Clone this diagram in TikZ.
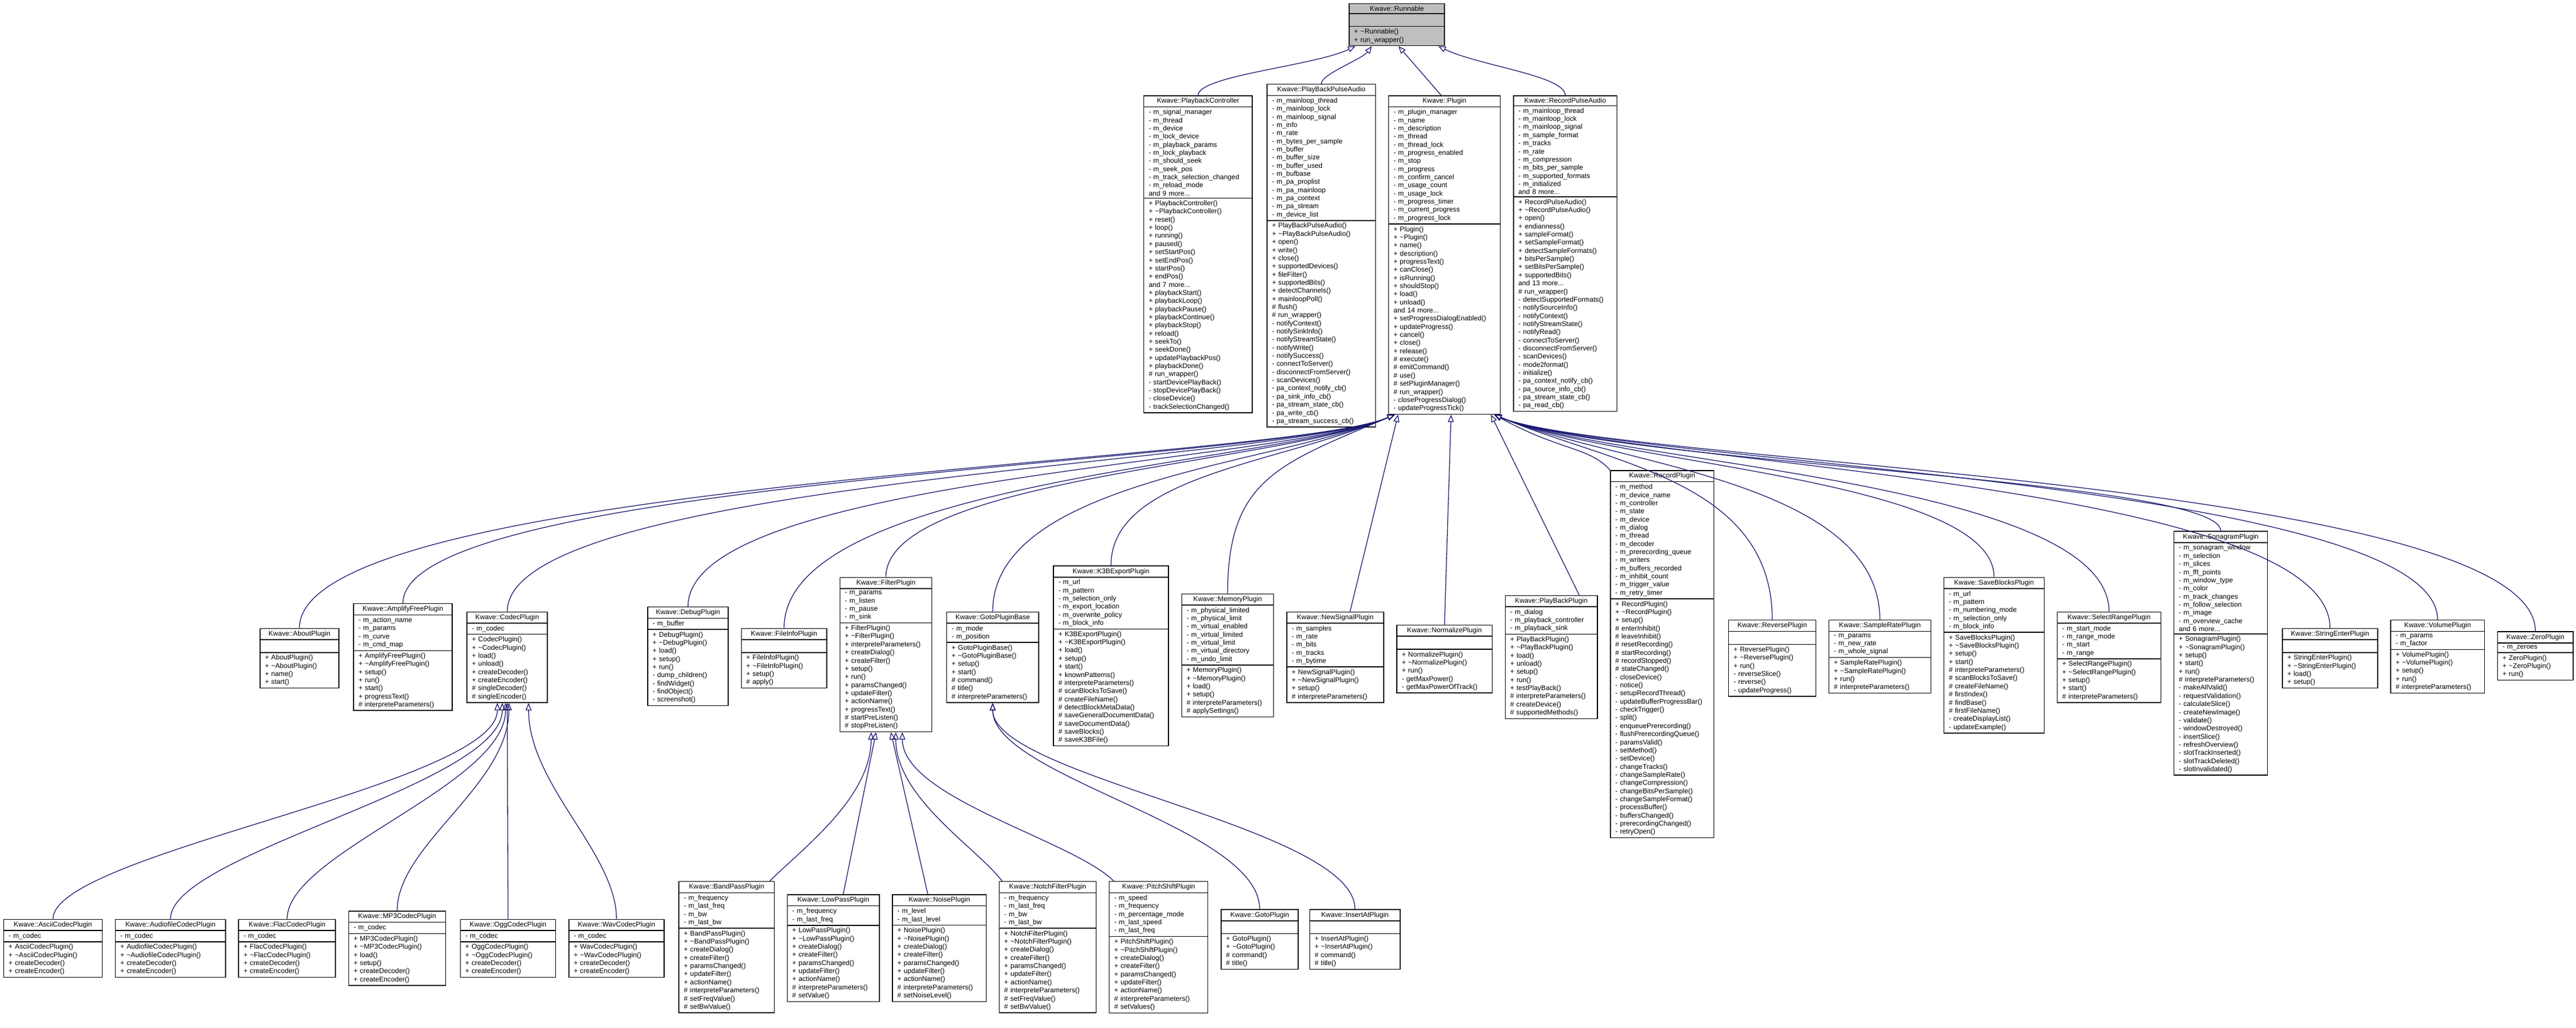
\documentclass[tikz,border=0pt]{standalone}
\usepackage{fontspec}
\usepackage{tikz}
\usetikzlibrary{arrows.meta}
\usetikzlibrary{shapes.multipart}
\newfontfamily\dxsans{Liberation Sans}
\definecolor{edgeblue}{HTML}{191970}
\definecolor{basegray}{HTML}{BFBFBF}
\newcommand\tld{\textasciitilde}
\newcommand\ttl[1]{\centering #1\par}
\tikzset{
  cls/.style={draw=black, fill=white, rectangle split, rectangle split parts=3,
    anchor=north west, inner xsep=3pt, inner ysep=1.2pt, align=left,
    line width=0.5pt, font={\dxsans\fontsize{4.2}{4.95}\selectfont}},
  inh/.style={draw=edgeblue, line width=0.45pt,
    -{Triangle[open,length=4.5pt,width=3.6pt]}}
}
\begin{document}
\catcode`\_=12
\begin{tikzpicture}[x=1pt, y=-1pt]
\useasboundingbox (0,0) rectangle (1568,625);

% top
\node[cls, fill=basegray, text width=52pt] (Runnable) at (821,2) {\ttl{Kwave::Runnable}\nodepart{two}\strut\nodepart{three}+ \tld Runnable()\\+ run_wrapper()};
\node[cls, text width=60pt] (PlaybackController) at (696,58) {\ttl{Kwave::PlaybackController}\nodepart{two}- m_signal_manager\\- m_thread\\- m_device\\- m_lock_device\\- m_playback_params\\- m_lock_playback\\- m_should_seek\\- m_seek_pos\\- m_track_selection_changed\\- m_reload_mode\\and 9 more...\nodepart{three}+ PlaybackController()\\+ \tld PlaybackController()\\+ reset()\\+ loop()\\+ running()\\+ paused()\\+ setStartPos()\\+ setEndPos()\\+ startPos()\\+ endPos()\\and 7 more...\\+ playbackStart()\\+ playbackLoop()\\+ playbackPause()\\+ playbackContinue()\\+ playbackStop()\\+ reload()\\+ seekTo()\\+ seekDone()\\+ updatePlaybackPos()\\+ playbackDone()\\\# run_wrapper()\\- startDevicePlayBack()\\- stopDevicePlayBack()\\- closeDevice()\\- trackSelectionChanged()};
\node[cls, text width=60pt] (PlayBackPulseAudio) at (771,51) {\ttl{Kwave::PlayBackPulseAudio}\nodepart{two}- m_mainloop_thread\\- m_mainloop_lock\\- m_mainloop_signal\\- m_info\\- m_rate\\- m_bytes_per_sample\\- m_buffer\\- m_buffer_size\\- m_buffer_used\\- m_bufbase\\- m_pa_proplist\\- m_pa_mainloop\\- m_pa_context\\- m_pa_stream\\- m_device_list\nodepart{three}+ PlayBackPulseAudio()\\+ \tld PlayBackPulseAudio()\\+ open()\\+ write()\\+ close()\\+ supportedDevices()\\+ fileFilter()\\+ supportedBits()\\+ detectChannels()\\+ mainloopPoll()\\\# flush()\\\# run_wrapper()\\- notifyContext()\\- notifySinkInfo()\\- notifyStreamState()\\- notifyWrite()\\- notifySuccess()\\- connectToServer()\\- disconnectFromServer()\\- scanDevices()\\- pa_context_notify_cb()\\- pa_sink_info_cb()\\- pa_stream_state_cb()\\- pa_write_cb()\\- pa_stream_success_cb()};
\node[cls, text width=62pt] (Plugin) at (845,58) {\ttl{Kwave::Plugin}\nodepart{two}- m_plugin_manager\\- m_name\\- m_description\\- m_thread\\- m_thread_lock\\- m_progress_enabled\\- m_stop\\- m_progress\\- m_confirm_cancel\\- m_usage_count\\- m_usage_lock\\- m_progress_timer\\- m_current_progress\\- m_progress_lock\nodepart{three}+ Plugin()\\+ \tld Plugin()\\+ name()\\+ description()\\+ progressText()\\+ canClose()\\+ isRunning()\\+ shouldStop()\\+ load()\\+ unload()\\and 14 more...\\+ setProgressDialogEnabled()\\+ updateProgress()\\+ cancel()\\+ close()\\+ release()\\\# execute()\\\# emitCommand()\\\# use()\\\# setPluginManager()\\\# run_wrapper()\\- closeProgressDialog()\\- updateProgressTick()};
\node[cls, text width=57pt] (RecordPulseAudio) at (921,58) {\ttl{Kwave::RecordPulseAudio}\nodepart{two}- m_mainloop_thread\\- m_mainloop_lock\\- m_mainloop_signal\\- m_sample_format\\- m_tracks\\- m_rate\\- m_compression\\- m_bits_per_sample\\- m_supported_formats\\- m_initialized\\and 8 more...\nodepart{three}+ RecordPulseAudio()\\+ \tld RecordPulseAudio()\\+ open()\\+ endianness()\\+ sampleFormat()\\+ setSampleFormat()\\+ detectSampleFormats()\\+ bitsPerSample()\\+ setBitsPerSample()\\+ supportedBits()\\and 13 more...\\\# run_wrapper()\\- detectSupportedFormats()\\- notifySourceInfo()\\- notifyContext()\\- notifyStreamState()\\- notifyRead()\\- connectToServer()\\- disconnectFromServer()\\- scanDevices()\\- mode2format()\\- initialize()\\- pa_context_notify_cb()\\- pa_source_info_cb()\\- pa_stream_state_cb()\\- pa_read_cb()};

% plugins
\node[cls, text width=42pt] (AboutPlugin) at (158,382) {\ttl{Kwave::AboutPlugin}\nodepart{two}\strut\nodepart{three}+ AboutPlugin()\\+ \tld AboutPlugin()\\+ name()\\+ start()};
\node[cls, text width=54pt] (AmplifyFreePlugin) at (215,367) {\ttl{Kwave::AmplifyFreePlugin}\nodepart{two}- m_action_name\\- m_params\\- m_curve\\- m_cmd_map\nodepart{three}+ AmplifyFreePlugin()\\+ \tld AmplifyFreePlugin()\\+ setup()\\+ run()\\+ start()\\+ progressText()\\\# interpreteParameters()};
\node[cls, text width=43pt] (CodecPlugin) at (284,372) {\ttl{Kwave::CodecPlugin}\nodepart{two}- m_codec\nodepart{three}+ CodecPlugin()\\+ \tld CodecPlugin()\\+ load()\\+ unload()\\+ createDecoder()\\+ createEncoder()\\\# singleDecoder()\\\# singleEncoder()};
\node[cls, text width=43pt] (DebugPlugin) at (394,369) {\ttl{Kwave::DebugPlugin}\nodepart{two}- m_buffer\nodepart{three}+ DebugPlugin()\\+ \tld DebugPlugin()\\+ load()\\+ setup()\\+ run()\\- dump_children()\\- findWidget()\\- findObject()\\- screenshot()};
\node[cls, text width=46pt] (FileInfoPlugin) at (451,382) {\ttl{Kwave::FileInfoPlugin}\nodepart{two}\strut\nodepart{three}+ FileInfoPlugin()\\+ \tld FileInfoPlugin()\\+ setup()\\\# apply()};
\node[cls, text width=50pt] (FilterPlugin) at (511,351) {\ttl{Kwave::FilterPlugin}\nodepart{two}- m_params\\- m_listen\\- m_pause\\- m_sink\nodepart{three}+ FilterPlugin()\\+ \tld FilterPlugin()\\+ interpreteParameters()\\+ createDialog()\\+ createFilter()\\+ setup()\\+ run()\\+ paramsChanged()\\+ updateFilter()\\+ actionName()\\+ progressText()\\\# startPreListen()\\\# stopPreListen()};
\node[cls, text width=50pt] (GotoPluginBase) at (576,372) {\ttl{Kwave::GotoPluginBase}\nodepart{two}- m_mode\\- m_position\nodepart{three}+ GotoPluginBase()\\+ \tld GotoPluginBase()\\+ setup()\\+ start()\\\# command()\\\# title()\\\# interpreteParameters()};
\node[cls, text width=64pt] (K3BExportPlugin) at (641,344) {\ttl{Kwave::K3BExportPlugin}\nodepart{two}- m_url\\- m_pattern\\- m_selection_only\\- m_export_location\\- m_overwrite_policy\\- m_block_info\nodepart{three}+ K3BExportPlugin()\\+ \tld K3BExportPlugin()\\+ load()\\+ setup()\\+ start()\\+ knownPatterns()\\\# interpreteParameters()\\\# scanBlocksToSave()\\\# createFileName()\\\# detectBlockMetaData()\\\# saveGeneralDocumentData()\\\# saveDocumentData()\\\# saveBlocks()\\\# saveK3BFile()};
\node[cls, text width=50pt] (MemoryPlugin) at (719,361) {\ttl{Kwave::MemoryPlugin}\nodepart{two}- m_physical_limited\\- m_physical_limit\\- m_virtual_enabled\\- m_virtual_limited\\- m_virtual_limit\\- m_virtual_directory\\- m_undo_limit\nodepart{three}+ MemoryPlugin()\\+ \tld MemoryPlugin()\\+ load()\\+ setup()\\\# interpreteParameters()\\\# applySettings()};
\node[cls, text width=53pt] (NewSignalPlugin) at (783,372) {\ttl{Kwave::NewSignalPlugin}\nodepart{two}- m_samples\\- m_rate\\- m_bits\\- m_tracks\\- m_bytime\nodepart{three}+ NewSignalPlugin()\\+ \tld NewSignalPlugin()\\+ setup()\\\# interpreteParameters()};
\node[cls, text width=52pt] (NormalizePlugin) at (850,380) {\ttl{Kwave::NormalizePlugin}\nodepart{two}\strut\nodepart{three}+ NormalizePlugin()\\+ \tld NormalizePlugin()\\+ run()\\- getMaxPower()\\- getMaxPowerOfTrack()};
\node[cls, text width=50pt] (PlayBackPlugin) at (916,362) {\ttl{Kwave::PlayBackPlugin}\nodepart{two}- m_dialog\\- m_playback_controller\\- m_playback_sink\nodepart{three}+ PlayBackPlugin()\\+ \tld PlayBackPlugin()\\+ load()\\+ unload()\\+ setup()\\+ run()\\+ testPlayBack()\\\# interpreteParameters()\\\# createDevice()\\\# supportedMethods()};
\node[cls, text width=57pt] (RecordPlugin) at (980,286) {\ttl{Kwave::RecordPlugin}\nodepart{two}- m_method\\- m_device_name\\- m_controller\\- m_state\\- m_device\\- m_dialog\\- m_thread\\- m_decoder\\- m_prerecording_queue\\- m_writers\\- m_buffers_recorded\\- m_inhibit_count\\- m_trigger_value\\- m_retry_timer\nodepart{three}+ RecordPlugin()\\+ \tld RecordPlugin()\\+ setup()\\\# enterInhibit()\\\# leaveInhibit()\\\# resetRecording()\\\# startRecording()\\\# recordStopped()\\\# stateChanged()\\- closeDevice()\\- notice()\\- setupRecordThread()\\- updateBufferProgressBar()\\- checkTrigger()\\- split()\\- enqueuePrerecording()\\- flushPrerecordingQueue()\\- paramsValid()\\- setMethod()\\- setDevice()\\- changeTracks()\\- changeSampleRate()\\- changeCompression()\\- changeBitsPerSample()\\- changeSampleFormat()\\- processBuffer()\\- buffersChanged()\\- prerecordingChanged()\\- retryOpen()};
\node[cls, text width=47pt] (ReversePlugin) at (1052,377) {\ttl{Kwave::ReversePlugin}\nodepart{two}\strut\nodepart{three}+ ReversePlugin()\\+ \tld ReversePlugin()\\+ run()\\- reverseSlice()\\- reverse()\\- updateProgress()};
\node[cls, text width=56pt] (SampleRatePlugin) at (1113,377) {\ttl{Kwave::SampleRatePlugin}\nodepart{two}- m_params\\- m_new_rate\\- m_whole_signal\nodepart{three}+ SampleRatePlugin()\\+ \tld SampleRatePlugin()\\+ run()\\\# interpreteParameters()};
\node[cls, text width=55pt] (SaveBlocksPlugin) at (1183,351) {\ttl{Kwave::SaveBlocksPlugin}\nodepart{two}- m_url\\- m_pattern\\- m_numbering_mode\\- m_selection_only\\- m_block_info\nodepart{three}+ SaveBlocksPlugin()\\+ \tld SaveBlocksPlugin()\\+ setup()\\+ start()\\\# interpreteParameters()\\\# scanBlocksToSave()\\\# createFileName()\\\# firstIndex()\\\# findBase()\\\# firstFileName()\\- createDisplayList()\\- updateExample()};
\node[cls, text width=57pt] (SelectRangePlugin) at (1252,372) {\ttl{Kwave::SelectRangePlugin}\nodepart{two}- m_start_mode\\- m_range_mode\\- m_start\\- m_range\nodepart{three}+ SelectRangePlugin()\\+ \tld SelectRangePlugin()\\+ setup()\\+ start()\\\# interpreteParameters()};
\node[cls, text width=51pt] (SonagramPlugin) at (1323,323) {\ttl{Kwave::SonagramPlugin}\nodepart{two}- m_sonagram_window\\- m_selection\\- m_slices\\- m_fft_points\\- m_window_type\\- m_color\\- m_track_changes\\- m_follow_selection\\- m_image\\- m_overview_cache\\and 6 more...\nodepart{three}+ SonagramPlugin()\\+ \tld SonagramPlugin()\\+ setup()\\+ start()\\+ run()\\\# interpreteParameters()\\- makeAllValid()\\- requestValidation()\\- calculateSlice()\\- createNewImage()\\- validate()\\- windowDestroyed()\\- insertSlice()\\- refreshOverview()\\- slotTrackInserted()\\- slotTrackDeleted()\\- slotInvalidated()};
\node[cls, text width=52pt] (StringEnterPlugin) at (1389,382) {\ttl{Kwave::StringEnterPlugin}\nodepart{two}\strut\nodepart{three}+ StringEnterPlugin()\\+ \tld StringEnterPlugin()\\+ load()\\+ setup()};
\node[cls, text width=51pt] (VolumePlugin) at (1455,377) {\ttl{Kwave::VolumePlugin}\nodepart{two}- m_params\\- m_factor\nodepart{three}+ VolumePlugin()\\+ \tld VolumePlugin()\\+ setup()\\+ run()\\\# interpreteParameters()};
\node[cls, text width=40pt] (ZeroPlugin) at (1520,384) {\ttl{Kwave::ZeroPlugin}\nodepart{two}- m_zeroes\nodepart{three}+ ZeroPlugin()\\+ \tld ZeroPlugin()\\+ run()};

% codecs, filters, goto
\node[cls, text width=54pt] (AsciiCodecPlugin) at (2,559) {\ttl{Kwave::AsciiCodecPlugin}\nodepart{two}- m_codec\nodepart{three}+ AsciiCodecPlugin()\\+ \tld AsciiCodecPlugin()\\+ createDecoder()\\+ createEncoder()};
\node[cls, text width=61pt] (AudiofileCodecPlugin) at (70,559) {\ttl{Kwave::AudiofileCodecPlugin}\nodepart{two}- m_codec\nodepart{three}+ AudiofileCodecPlugin()\\+ \tld AudiofileCodecPlugin()\\+ createDecoder()\\+ createEncoder()};
\node[cls, text width=53pt] (FlacCodecPlugin) at (145,559) {\ttl{Kwave::FlacCodecPlugin}\nodepart{two}- m_codec\nodepart{three}+ FlacCodecPlugin()\\+ \tld FlacCodecPlugin()\\+ createDecoder()\\+ createEncoder()};
\node[cls, text width=53pt] (MP3CodecPlugin) at (212,554) {\ttl{Kwave::MP3CodecPlugin}\nodepart{two}- m_codec\nodepart{three}+ MP3CodecPlugin()\\+ \tld MP3CodecPlugin()\\+ load()\\+ setup()\\+ createDecoder()\\+ createEncoder()};
\node[cls, text width=52pt] (OggCodecPlugin) at (280,559) {\ttl{Kwave::OggCodecPlugin}\nodepart{two}- m_codec\nodepart{three}+ OggCodecPlugin()\\+ \tld OggCodecPlugin()\\+ createDecoder()\\+ createEncoder()};
\node[cls, text width=52pt] (WavCodecPlugin) at (346,559) {\ttl{Kwave::WavCodecPlugin}\nodepart{two}- m_codec\nodepart{three}+ WavCodecPlugin()\\+ \tld WavCodecPlugin()\\+ createDecoder()\\+ createEncoder()};
\node[cls, text width=52pt] (BandPassPlugin) at (413,536) {\ttl{Kwave::BandPassPlugin}\nodepart{two}- m_frequency\\- m_last_freq\\- m_bw\\- m_last_bw\nodepart{three}+ BandPassPlugin()\\+ \tld BandPassPlugin()\\+ createDialog()\\+ createFilter()\\+ paramsChanged()\\+ updateFilter()\\+ actionName()\\\# interpreteParameters()\\\# setFreqValue()\\\# setBwValue()};
\node[cls, text width=50pt] (LowPassPlugin) at (479,544) {\ttl{Kwave::LowPassPlugin}\nodepart{two}- m_frequency\\- m_last_freq\nodepart{three}+ LowPassPlugin()\\+ \tld LowPassPlugin()\\+ createDialog()\\+ createFilter()\\+ paramsChanged()\\+ updateFilter()\\+ actionName()\\\# interpreteParameters()\\\# setValue()};
\node[cls, text width=51pt] (NoisePlugin) at (543,544) {\ttl{Kwave::NoisePlugin}\nodepart{two}- m_level\\- m_last_level\nodepart{three}+ NoisePlugin()\\+ \tld NoisePlugin()\\+ createDialog()\\+ createFilter()\\+ paramsChanged()\\+ updateFilter()\\+ actionName()\\\# interpreteParameters()\\\# setNoiseLevel()};
\node[cls, text width=53pt] (NotchFilterPlugin) at (608,536) {\ttl{Kwave::NotchFilterPlugin}\nodepart{two}- m_frequency\\- m_last_freq\\- m_bw\\- m_last_bw\nodepart{three}+ NotchFilterPlugin()\\+ \tld NotchFilterPlugin()\\+ createDialog()\\+ createFilter()\\+ paramsChanged()\\+ updateFilter()\\+ actionName()\\\# interpreteParameters()\\\# setFreqValue()\\\# setBwValue()};
\node[cls, text width=54pt] (PitchShiftPlugin) at (675,536) {\ttl{Kwave::PitchShiftPlugin}\nodepart{two}- m_speed\\- m_frequency\\- m_percentage_mode\\- m_last_speed\\- m_last_freq\nodepart{three}+ PitchShiftPlugin()\\+ \tld PitchShiftPlugin()\\+ createDialog()\\+ createFilter()\\+ paramsChanged()\\+ updateFilter()\\+ actionName()\\\# interpreteParameters()\\\# setValues()};
\node[cls, text width=41pt] (GotoPlugin) at (743,553) {\ttl{Kwave::GotoPlugin}\nodepart{two}\strut\nodepart{three}+ GotoPlugin()\\+ \tld GotoPlugin()\\\# command()\\\# title()};
\node[cls, text width=49pt] (InsertAtPlugin) at (797,553) {\ttl{Kwave::InsertAtPlugin}\nodepart{two}\strut\nodepart{three}+ InsertAtPlugin()\\+ \tld InsertAtPlugin()\\\# command()\\\# title()};

% inheritance
\draw[inh] (PlaybackController.north) .. controls +(0,-12) and +(-25,12) .. ([xshift=4pt]Runnable.south west);
\draw[inh] (PlayBackPulseAudio.north) .. controls +(0,-6) and +(-6,8) .. ([xshift=14pt]Runnable.south west);
\draw[inh] ([xshift=-2pt]Plugin.north) -- ([xshift=1pt]Runnable.south);
\draw[inh] (RecordPulseAudio.north) .. controls +(0,-12) and +(25,12) .. ([xshift=-4pt]Runnable.south east);

\foreach \c/\u in {AboutPlugin/90, AmplifyFreePlugin/76, CodecPlugin/80, DebugPlugin/78,
    FileInfoPlugin/90, FilterPlugin/60, GotoPluginBase/80, K3BExportPlugin/55, MemoryPlugin/70}
  \draw[inh] (\c.north) .. controls +(0,-\u) and +(-70,30) .. ([xshift=4pt]Plugin.south west);
\draw[inh] ([xshift=9pt]NewSignalPlugin.north) -- ([xshift=6pt]Plugin.south west);
\draw[inh] ([xshift=0pt]NormalizePlugin.north) -- ([xshift=4pt]Plugin.south);
\draw[inh] ([xshift=17pt]PlayBackPlugin.north) -- ([xshift=-6pt]Plugin.south east);
\draw[inh] (RecordPlugin.north west) .. controls +(-12,-14) and +(40,22) .. ([xshift=-4pt]Plugin.south east);
\foreach \c/\u in {ReversePlugin/85, SampleRatePlugin/85, SaveBlocksPlugin/60, SelectRangePlugin/80,
    SonagramPlugin/32, StringEnterPlugin/90, VolumePlugin/85, ZeroPlugin/92}
  \draw[inh] (\c.north) .. controls +(0,-\u) and +(70,30) .. ([xshift=-4pt]Plugin.south east);

\foreach \c/\s in {AsciiCodecPlugin/-6, AudiofileCodecPlugin/-3, FlacCodecPlugin/-1,
    MP3CodecPlugin/1, WavCodecPlugin/13}
  \draw[inh] (\c.north) .. controls +(0,-40) and +(0,50) .. ([xshift=\s pt]CodecPlugin.south);
\draw[inh] (OggCodecPlugin.north) -- (CodecPlugin.south);

\draw[inh] ([xshift=-3pt]BandPassPlugin.north east) .. controls +(20,-20) and +(0,40) .. ([xshift=-9pt]FilterPlugin.south);
\draw[inh] ([xshift=6pt]LowPassPlugin.north) -- ([xshift=-6pt]FilterPlugin.south);
\draw[inh] ([xshift=-7pt]NoisePlugin.north) -- ([xshift=3pt]FilterPlugin.south);
\draw[inh] ([xshift=2pt]NotchFilterPlugin.north west) .. controls +(-15,-20) and +(0,40) .. ([xshift=6pt]FilterPlugin.south);
\draw[inh] ([xshift=3pt]PitchShiftPlugin.north west) .. controls +(-25,-25) and +(0,40) .. ([xshift=10pt]FilterPlugin.south);

\draw[inh] (GotoPlugin.north) .. controls +(0,-50) and +(0,45) .. (GotoPluginBase.south);
\draw[inh] (InsertAtPlugin.north) .. controls +(0,-50) and +(0,45) .. (GotoPluginBase.south);
\end{tikzpicture}
\end{document}
